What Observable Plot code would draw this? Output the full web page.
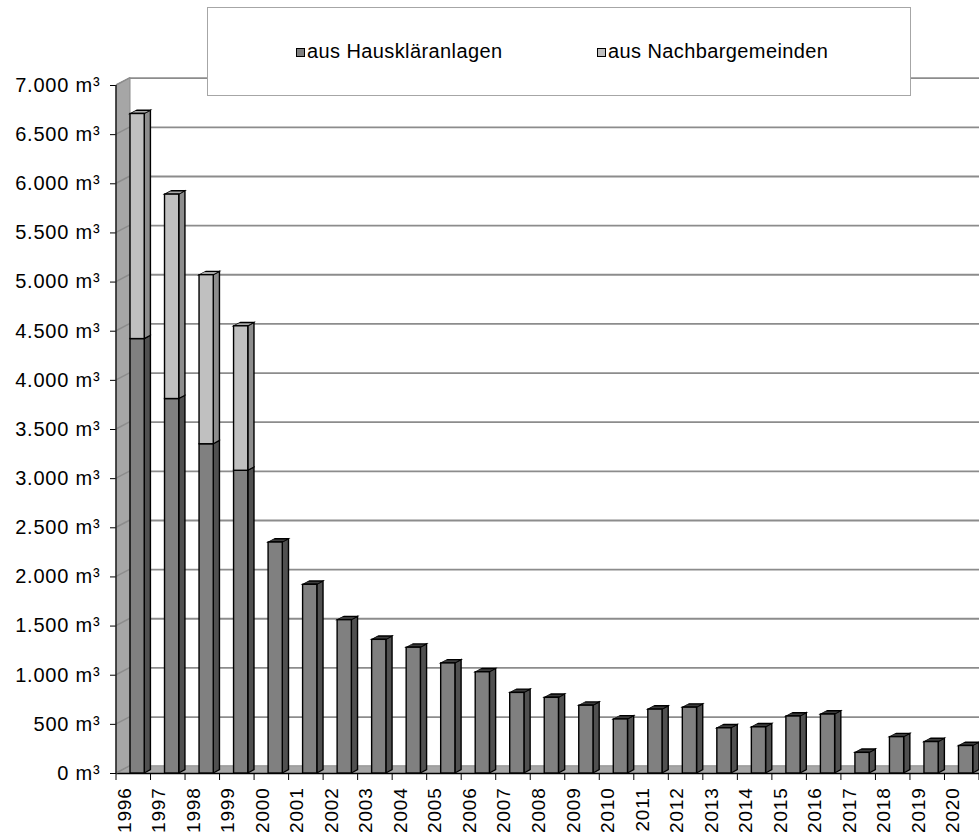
<!DOCTYPE html>
<html>
<head>
<meta charset="utf-8">
<script src="https://cdn.jsdelivr.net/npm/d3@7"></script>
<script src="https://cdn.jsdelivr.net/npm/@observablehq/plot@0.6"></script>
<style>
  html, body { margin: 0; padding: 0; background: #fff; overflow: hidden; }
  body { font-family: "Liberation Sans", Arial, sans-serif; }
  #wrap { position: relative; width: 979px; height: 834px; overflow: hidden; }
  #chart svg text { letter-spacing: 0.8px; }
  #legend { position: absolute; left: 207px; top: 7px; width: 704px; height: 89px; box-sizing: border-box;
            border: 1px solid #a6a6a6; background: #fff; }
  #legend .item { position: absolute; top: 31px; font-size: 20px; letter-spacing: 0.4px; line-height: 24px;
                  white-space: nowrap; color: #000; }
  #legend .sw { display: inline-block; width: 9px; height: 9px; box-sizing: border-box; border: 1.5px solid #000;
                margin-right: 2px; vertical-align: 1px; }
</style>
</head>
<body>
<div id="wrap">
  <div id="chart"></div>
  <div id="legend"></div>
</div>
<script>
// ---------- data ----------
const years = ["1996","1997","1998","1999","2000","2001","2002","2003","2004","2005","2006","2007","2008",
               "2009","2010","2011","2012","2013","2014","2015","2016","2017","2018","2019","2020"];
const hausklaeranlagen = [4420, 3810, 3350, 3080, 2350, 1920, 1560, 1360, 1280, 1120, 1030, 820, 770,
                          690, 550, 650, 670, 460, 470, 580, 600, 210, 370, 320, 280];
const nachbargemeinden = [2290, 2080, 1720, 1470, 0, 0, 0, 0, 0, 0, 0, 0, 0,
                          0, 0, 0, 0, 0, 0, 0, 0, 0, 0, 0, 0];
const seriesNames = ["aus Hauskläranlagen", "aus Nachbargemeinden"];
const yTicks = d3.range(0, 7001, 500);

// ---------- styling ----------
const frontColors = ["#808080", "#c0c0c0"];
const sideColors  = ["#505050", "#8d8d8d"];
const topColors   = ["#3d3d3d", "#a9a9a9"];
const W = 979, H = 834, mL = 116, mR = 0, mT = 85, mB = 61;
const band = (W - mL - mR) / years.length;
const faceL = 14, faceR = 6.3;          // front face insets inside a band
const DX = 6.2, DY = 3.3;               // bar depth offset
const WX = 14, WY = 7.3;                // wall depth offset

// ---------- derived tables ----------
const darkRows  = years.map((year, i) => ({year, y1: 0, y2: hausklaeranlagen[i]}));
const lightRows = years.map((year, i) => ({year, y1: hausklaeranlagen[i], y2: hausklaeranlagen[i] + nachbargemeinden[i]}))
                       .filter(d => d.y2 > d.y1);
const topRows   = years.map((year, i) => ({year, total: hausklaeranlagen[i] + nachbargemeinden[i], light: nachbargemeinden[i] > 0}));

const de = d3.formatLocale({decimal: ",", thousands: ".", grouping: [3], currency: ["", "€"]});
const fmt = v => de.format(",")(v) + " m³";

const frontOpts = {x: "year", y1: "y1", y2: "y2", stroke: "#000", strokeWidth: 1.4, insetLeft: faceL, insetRight: faceR};
const sideOpts  = {x: "year", y1: "y1", y2: "y2", stroke: "#000", strokeWidth: 1.4, insetLeft: band - faceR, insetRight: faceR - DX};
const topOpts   = {x: "year", y1: "total", y2: "total", stroke: "#000", strokeWidth: 1.4, insetLeft: faceL, insetRight: faceR, insetTop: -DY};

const plot = Plot.plot({
  width: W, height: H,
  marginLeft: mL, marginRight: mR, marginTop: mT, marginBottom: mB,
  style: {fontFamily: "'Liberation Sans', Arial, sans-serif", fontSize: "20px", color: "#000", background: "transparent"},
  x: {domain: years, padding: 0, round: false, axis: null},
  y: {domain: [0, 7000], ticks: yTicks, tickFormat: fmt, tickSize: 6, tickPadding: 10, label: null},
  marks: [
    Plot.ruleY(yTicks, {dx: WX, dy: -WY, stroke: "#8c8c8c", strokeWidth: 1.8}),
    Plot.ruleY([0], {dy: -WY / 2, stroke: "#a6a6a6", strokeWidth: WY}),
    Plot.ruleY([0], {stroke: "#000", strokeWidth: 1.6}),
    Plot.barY(darkRows,  {...sideOpts, fill: sideColors[0]}),
    Plot.barY(lightRows, {...sideOpts, fill: sideColors[1]}),
    Plot.barY(topRows.filter(d => !d.light), {...topOpts, fill: topColors[0]}),
    Plot.barY(topRows.filter(d => d.light),  {...topOpts, fill: topColors[1]}),
    Plot.barY(darkRows,  {...frontOpts, fill: frontColors[0]}),
    Plot.barY(lightRows, {...frontOpts, fill: frontColors[1]}),
    Plot.text(years, {x: d => d, frameAnchor: "bottom", rotate: -90, textAnchor: "end", dy: 14, dx: -3, fontSize: 19})
  ]
});
document.getElementById("chart").appendChild(plot);

// ---------- 3D decorations derived from Plot's scales ----------
const svg = d3.select(plot);
const ys = plot.scale("y"), xs = plot.scale("x");
const Y = d3.scaleLinear(ys.domain, ys.range);
const X = d3.scaleBand(xs.domain, xs.range).padding(0);
const x0 = xs.range[0];

const groupsWithFill = c => svg.selectAll("g").filter(function () {
  return (this.getAttribute("fill") || "").toLowerCase() === c;
});
// skew side faces and top faces into parallelograms
sideColors.forEach(c => groupsWithFill(c).selectAll("rect").each(function () {
  const rx = +this.getAttribute("x"), k = DY / DX;
  this.setAttribute("transform", `matrix(1,${-k},0,1,0,${k * rx})`);
}));
topColors.forEach(c => groupsWithFill(c).selectAll("rect").each(function () {
  const yb = +this.getAttribute("y") + +this.getAttribute("height"), c2 = DX / DY;
  this.setAttribute("transform", `matrix(1,0,${-c2},1,${c2 * yb},0)`);
}));

// left side wall (drawn behind the bars)
const firstBarGroup = groupsWithFill(sideColors[0]).node();
const wall = svg.insert("g", () => firstBarGroup);
wall.append("polygon")
  .attr("points", [[x0, Y(7000)], [x0 + WX, Y(7000) - WY], [x0 + WX, Y(0) - WY], [x0, Y(0)]].map(p => p.join(",")).join(" "))
  .attr("fill", "#a6a6a6").attr("stroke", "#8c8c8c").attr("stroke-width", 1);
wall.selectAll("line").data(yTicks).join("line")
  .attr("x1", x0).attr("x2", x0 + WX)
  .attr("y1", d => Y(d)).attr("y2", d => Y(d) - WY)
  .attr("stroke", "#8c8c8c").attr("stroke-width", 1.5);

// front axis line and category boundary ticks
const deco = svg.append("g");
deco.append("line").attr("x1", x0).attr("x2", x0).attr("y1", Y(7000)).attr("y2", Y(0))
  .attr("stroke", "#000").attr("stroke-width", 1.2);
const bounds = years.map(d => X(d)).concat([X(years[years.length - 1]) + X.bandwidth()]);
deco.selectAll("line.t").data(bounds).join("line").attr("class", "t")
  .attr("x1", d => d).attr("x2", d => d).attr("y1", Y(0)).attr("y2", Y(0) + 7)
  .attr("stroke", "#000").attr("stroke-width", 1);

// ---------- legend ----------
const legend = d3.select("#legend");
const legendLeft = [88, 389];
seriesNames.forEach((name, i) => {
  const item = legend.append("div").attr("class", "item").style("left", legendLeft[i] + "px");
  item.append("i").attr("class", "sw").style("background", frontColors[i]);
  item.append("span").text(name);
});
</script>
</body>
</html>
